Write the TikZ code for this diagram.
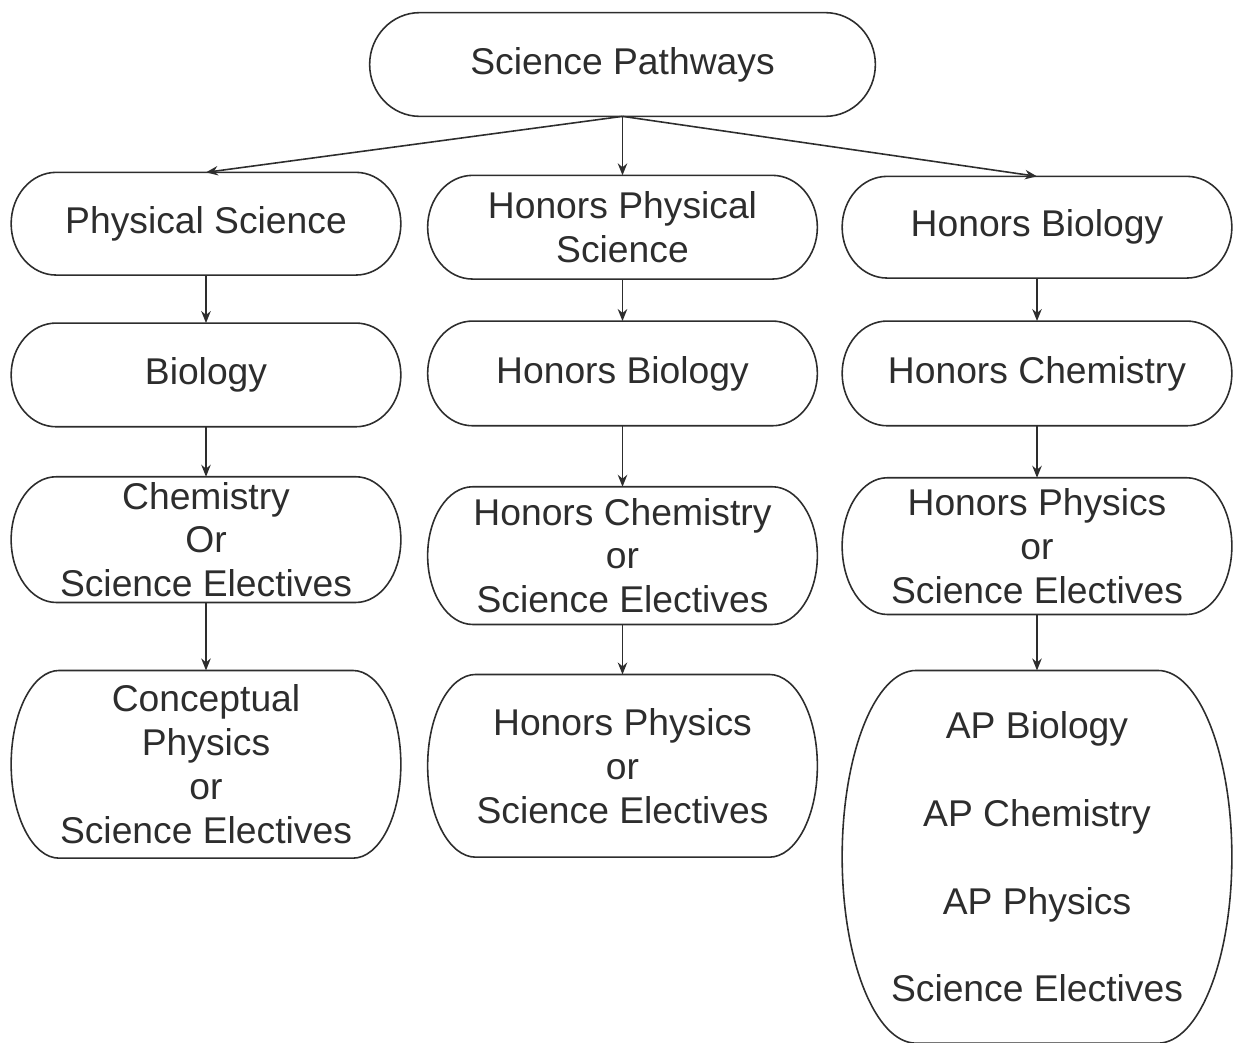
\documentclass[tikz,border=0pt]{standalone}
\usepackage{fontspec}
\setmainfont{Liberation Sans}
\usepackage{tikz}
\usetikzlibrary{arrows.meta,positioning,calc}
\definecolor{inkgray}{RGB}{45,45,45}

\begin{document}
\begin{tikzpicture}[
    node distance=1cm,
    course/.style={rectangle, minimum width=7.78cm, inner sep=0pt,
        align=center, text=inkgray, font={\fontsize{21.2}{25}\selectfont}},
    outline/.style={draw=inkgray, line width=0.9pt},
    arrow/.style={-{Stealth[length=2.4mm,width=1.9mm]}, line width=0.9pt, inkgray}
]
    \useasboundingbox (0,0) rectangle (24.66,-20.84);

    \node[course, minimum width=10.1cm, minimum height=2.06cm] (pathways) at (12.45,-1.29) {Science Pathways};

    % first column
    \node[course, minimum height=2.04cm, below=1.12cm of pathways, xshift=-8.33cm] (physci) {Physical Science};
    \node[course, minimum height=2.06cm, below=0.96cm of physci] (bio) {Biology};
    \node[course, minimum height=2.5cm, below=1.0cm of bio] (chem) {Chemistry\\Or\\Science Electives};
    \node[course, minimum height=3.74cm, below=1.36cm of chem] (concept) {Conceptual\\Physics\\or\\Science Electives};

    % second column
    \node[course, minimum height=2.06cm, below=1.18cm of pathways] (hphysci) {Honors Physical\\Science};
    \node[course, minimum height=2.08cm, below=0.84cm of hphysci] (hbio) {Honors Biology};
    \node[course, minimum height=2.74cm, below=1.22cm of hbio] (hchem) {Honors Chemistry\\or\\Science Electives};
    \node[course, minimum height=3.64cm, below=1.0cm of hchem] (hphys) {Honors Physics\\or\\Science Electives};

    % third column
    \node[course, minimum height=2.02cm, below=1.2cm of pathways, xshift=8.29cm] (hbioB) {Honors Biology};
    \node[course, minimum height=2.08cm, below=0.86cm of hbioB] (hchemB) {Honors Chemistry};
    \node[course, minimum height=2.72cm, below=1.04cm of hchemB] (hphysB) {Honors Physics\\or\\Science Electives};
    \node[course, minimum height=7.44cm, below=1.12cm of hphysB] (ap) {AP Biology\\[25pt]AP Chemistry\\[25pt]AP Physics\\[25pt]Science Electives};

    % terminator outlines
    \foreach \b/\r in {pathways/1.0, physci/0.9, bio/0.9, chem/0.9, concept/0.96,
                       hphysci/0.9, hbio/0.9, hchem/0.9, hphys/0.96,
                       hbioB/0.9, hchemB/0.9, hphysB/0.9, ap/1.48}
        \draw[outline] let \p1=(\b.north east), \p2=(\b.south west), \n1={(\y1-\y2)/2} in
            ({\x2+\r*1cm},\y1) -- ({\x1-\r*1cm},\y1)
            arc[start angle=90, end angle=-90, x radius={\r*1cm}, y radius={\n1*1pt}]
            -- ({\x2+\r*1cm},\y2)
            arc[start angle=270, end angle=90, x radius={\r*1cm}, y radius={\n1*1pt}] -- cycle;

    \draw[arrow] (pathways.south) -- (physci.north);
    \draw[arrow] (pathways.south) -- (hphysci.north);
    \draw[arrow] (pathways.south) -- (hbioB.north);

    \draw[arrow] (physci) -- (bio);
    \draw[arrow] (bio) -- (chem);
    \draw[arrow] (chem) -- (concept);
    \draw[arrow] (hphysci) -- (hbio);
    \draw[arrow] (hbio) -- (hchem);
    \draw[arrow] (hchem) -- (hphys);
    \draw[arrow] (hbioB) -- (hchemB);
    \draw[arrow] (hchemB) -- (hphysB);
    \draw[arrow] (hphysB) -- (ap);
\end{tikzpicture}
\end{document}
